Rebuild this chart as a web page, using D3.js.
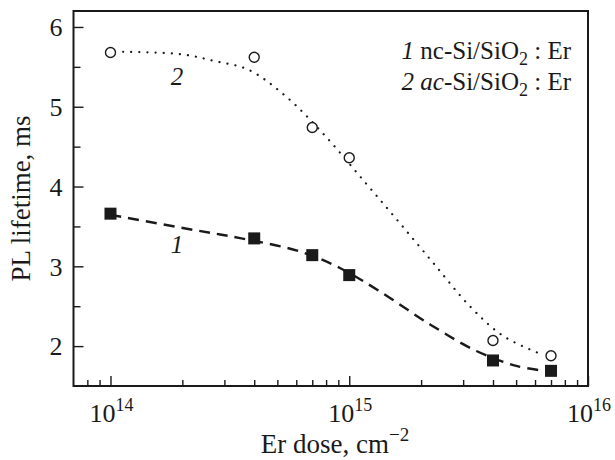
<!DOCTYPE html>
<html><head><meta charset="utf-8">
<script src="https://cdn.jsdelivr.net/npm/d3@7"></script>
<style>
body{margin:0;background:#fff}
</style>
</head><body>
<svg id="c" width="615" height="460"></svg>
<script>
// measured points
const doses = [1e14, 4e14, 7e14, 1e15, 4e15, 7e15];
const ncLifetime = [3.66, 3.35, 3.14, 2.89, 1.82, 1.69];   // series 1, filled squares
const acLifetime = [5.68, 5.62, 4.74, 4.36, 2.07, 1.88];   // series 2, open circles
// fitted curves
const ncFitDose = [1.0e14, 2.23e14, 3.49e14, 6.22e14, 9.14e14, 1.34e15, 2.18e15, 3.41e15, 5.01e15, 6.6e15];
const ncFitLife = [3.645, 3.456, 3.353, 3.186, 2.979, 2.687, 2.272, 1.939, 1.752, 1.69];
const acFitDose = [1.13e14, 1.96e14, 2.70e14, 3.78e14, 5.38e14, 7.78e14, 1.16e15, 1.63e15, 2.28e15, 3.20e15, 4.42e15, 6.3e15];
const acFitLife = [5.688, 5.66, 5.576, 5.464, 5.14, 4.662, 4.059, 3.54, 3.02, 2.50, 2.126, 1.905];
const yTicks = [2, 3, 4, 5, 6];
const yMinorTicks = [2.5, 3.5, 4.5, 5.5];
const xTickExponents = [14, 15, 16];
const xMinorTicks = [8e13, 9e13, 2e14, 3e14, 4e14, 5e14, 6e14, 7e14, 8e14, 9e14, 2e15, 3e15, 4e15, 5e15, 6e15, 7e15, 8e15, 9e15];
const legendLines = [
  {num: "1", pre: " nc", rest: "-Si/SiO", sub: "2", tail: " : Er"},
  {num: "2", pre: " ac", rest: "-Si/SiO", sub: "2", tail: " : Er"}
];

const FONT = '"Liberation Serif","Times New Roman",Times,serif';
const L = 73.5, R = 588, T = 11, B = 386;
const x = d3.scaleLog().domain([7e13, 1e16]).range([L, R]);
const y = d3.scaleLinear().domain([1.5, 6.2]).range([B, T]);
const svg = d3.select("#c");
const ink = "#1a1a1a";

// axes (inward ticks)
const gx = svg.append("g").attr("transform", `translate(0,${B})`);
gx.call(d3.axisBottom(x).tickValues(xMinorTicks).tickSize(-6).tickFormat(""));
const gx2 = svg.append("g").attr("transform", `translate(0,${B})`);
gx2.call(d3.axisBottom(x).tickValues(xTickExponents.map(e => Math.pow(10, e))).tickSize(-10).tickFormat(""));
const gy = svg.append("g").attr("transform", `translate(${L},0)`);
gy.call(d3.axisLeft(y).tickValues(yMinorTicks).tickSize(-7).tickFormat(""));
const gy2 = svg.append("g").attr("transform", `translate(${L},0)`);
gy2.call(d3.axisLeft(y).tickValues(yTicks).tickSize(-10).tickFormat(d => d));
svg.selectAll("g").attr("font-family", FONT);
svg.selectAll(".domain").remove();
svg.selectAll(".tick line").attr("stroke", ink).attr("stroke-width", 1.4);
gy2.selectAll(".tick text").attr("font-size", 26).attr("x", -11).attr("dy", "0.34em")
  .attr("font-family", FONT).attr("fill", ink);

// x labels 10^n
xTickExponents.forEach(e => {
  const t = svg.append("text").attr("x", x(Math.pow(10, e)) + 1).attr("y", B + 36)
    .attr("text-anchor", "middle").attr("font-size", 26).attr("font-family", FONT).attr("fill", ink);
  t.append("tspan").text("10");
  t.append("tspan").attr("font-size", 18).attr("dy", -11).text(e);
});

// frame
svg.append("rect").attr("x", L).attr("y", T).attr("width", R - L).attr("height", B - T)
  .attr("fill", "none").attr("stroke", ink).attr("stroke-width", 2);

// axis titles
const xt = svg.append("text").attr("x", 335).attr("y", 453).attr("text-anchor", "middle")
  .attr("font-size", 27).attr("font-family", FONT).attr("fill", ink);
xt.append("tspan").text("Er dose, cm");
xt.append("tspan").attr("font-size", 19).attr("dy", -12).text("\u22122");
svg.append("text").attr("transform", `translate(30,${(T + B) / 2}) rotate(-90)`)
  .attr("text-anchor", "middle").attr("font-size", 27).attr("font-family", FONT).attr("fill", ink)
  .text("PL lifetime, ms");

// curves
const line = d3.line().x(d => x(d[0])).y(d => y(d[1])).curve(d3.curveCatmullRom.alpha(0.5));
svg.append("path").attr("d", line(ncFitDose.map((d, i) => [d, ncFitLife[i]])))
  .attr("fill", "none").attr("stroke", ink).attr("stroke-width", 2.4).attr("stroke-dasharray", "11,7");
svg.append("path").attr("d", line(acFitDose.map((d, i) => [d, acFitLife[i]])))
  .attr("fill", "none").attr("stroke", ink).attr("stroke-width", 2.2)
  .attr("stroke-linecap", "round").attr("stroke-dasharray", "0.1,8");

// markers
svg.selectAll("rect.sq").data(doses).enter().append("rect").attr("class", "sq")
  .attr("x", d => x(d) - 6).attr("y", (d, i) => y(ncLifetime[i]) - 6)
  .attr("width", 12).attr("height", 12).attr("fill", ink);
svg.selectAll("circle.ci").data(doses).enter().append("circle").attr("class", "ci")
  .attr("cx", d => x(d)).attr("cy", (d, i) => y(acLifetime[i])).attr("r", 5)
  .attr("fill", "#fff").attr("stroke", ink).attr("stroke-width", 1.4);

// curve labels
svg.append("text").attr("x", x(1.9e14)).attr("y", y(5.27)).attr("text-anchor", "middle")
  .attr("font-size", 25).attr("font-style", "italic").attr("font-family", FONT).attr("fill", ink).text("2");
svg.append("text").attr("x", x(1.9e14)).attr("y", y(3.17)).attr("text-anchor", "middle")
  .attr("font-size", 25).attr("font-style", "italic").attr("font-family", FONT).attr("fill", ink).text("1");

// legend
legendLines.forEach((l, i) => {
  const t = svg.append("text").attr("x", 571).attr("y", 59 + i * 31).attr("text-anchor", "end")
    .attr("font-size", 25).attr("font-family", FONT).attr("fill", ink);
  t.append("tspan").attr("font-style", "italic").text(l.num);
  t.append("tspan").attr("font-style", i === 1 ? "italic" : "normal").text(l.pre);
  t.append("tspan").text(l.rest);
  t.append("tspan").attr("font-size", 18).attr("dy", 6).text(l.sub);
  t.append("tspan").attr("dy", -6).text(l.tail);
});
</script>
</body></html>
